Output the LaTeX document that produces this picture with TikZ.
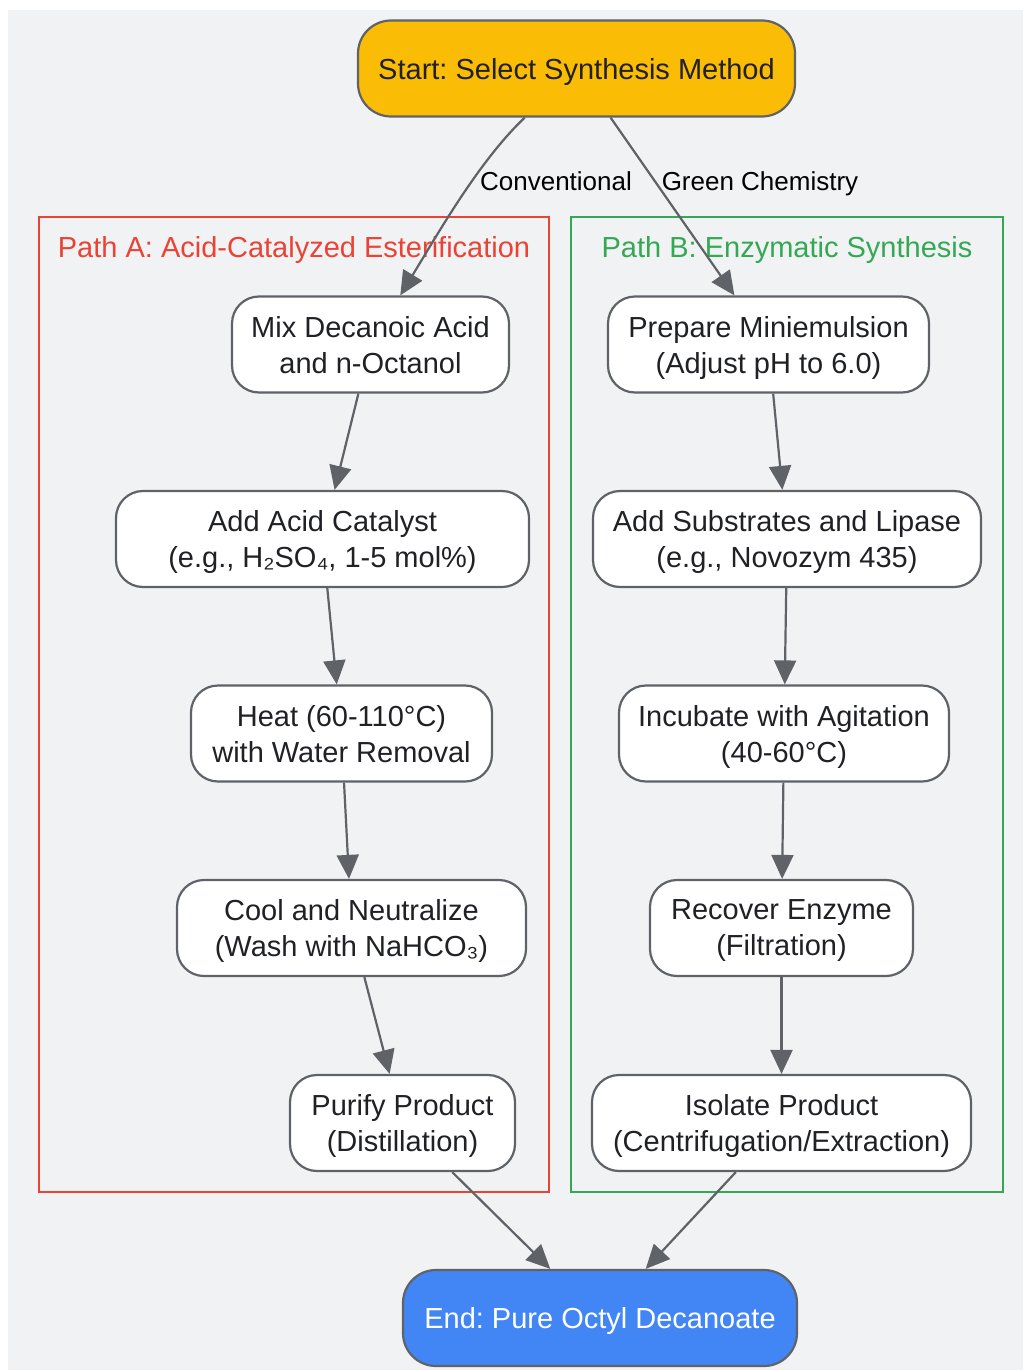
\documentclass[tikz,border=0pt]{standalone}
\usepackage{fontspec}
\setmainfont{Liberation Sans}
\usetikzlibrary{arrows.meta}
\definecolor{bgcol}{HTML}{F1F2F4}
\definecolor{linecol}{HTML}{5F6368}
\definecolor{startcol}{HTML}{FBBC05}
\definecolor{endcol}{HTML}{4285F4}
\definecolor{pathacol}{HTML}{EA4335}
\definecolor{pathbcol}{HTML}{34A853}
\definecolor{textcol}{HTML}{202124}
\frenchspacing

\begin{document}
\begin{tikzpicture}[x=1pt,y=-1pt]
    \tikzstyle{proc}=[rectangle, rounded corners=27pt, draw=linecol, line width=2.2pt, fill=white, minimum height=96pt, inner sep=0pt, text depth=0pt, align=center, text=textcol, font=\fontsize{29}{36}\selectfont]
    \tikzstyle{terminal}=[proc, rounded corners=33pt]
    \tikzstyle{cluster}=[line width=2.2pt]
    \tikzstyle{ctitle}=[text depth=0pt, font=\fontsize{29}{36}\selectfont]
    \tikzstyle{flow}=[draw=linecol, line width=2.2pt, -{Triangle[length=24pt,width=22pt]}]
    \tikzstyle{elabel}=[text depth=0pt, font=\fontsize{26}{30}\selectfont, text=black]
    \useasboundingbox (0,0) rectangle (1023,1370);
    \fill[bgcol] (8,10) rectangle (1023,1370);
    \draw[cluster, pathacol] (39,217) rectangle (549,1192);
    \draw[cluster, pathbcol] (571,217) rectangle (1003,1192);
    \node[ctitle, text=pathacol] (titlea) at (294,247) {Path A: Acid-Catalyzed Esterification};
    \node[ctitle, text=pathbcol] (titleb) at (787,247) {Path B: Enzymatic Synthesis};
    \node[terminal, fill=startcol, minimum width=437pt] (start) at (576.5,68.5) {Start: Select Synthesis Method};
    \node[terminal, fill=endcol, text=white, minimum width=394pt] (end) at (600,1318) {End: Pure Octyl Decanoate};
    \node[proc, minimum width=277pt] (mix) at (370.5,344.5) {Mix Decanoic Acid\\and n-Octanol};
    \node[proc, minimum width=413pt] (catalyst) at (322.5,539) {Add Acid Catalyst\\(e.g., H₂SO₄, 1-5 mol\%)};
    \node[proc, minimum width=301pt] (heat) at (341.5,733.5) {Heat (60-110°C)\\with Water Removal};
    \node[proc, minimum width=349pt] (cool) at (351.5,928) {Cool and Neutralize\\(Wash with NaHCO₃)};
    \node[proc, minimum width=225pt] (purify) at (402.5,1123) {Purify Product\\(Distillation)};
    \node[proc, minimum width=321pt] (emulsion) at (768.5,344.5) {Prepare Miniemulsion\\(Adjust pH to 6.0)};
    \node[proc, minimum width=388pt] (lipase) at (787,539) {Add Substrates and Lipase\\(e.g., Novozym 435)};
    \node[proc, minimum width=330pt] (incubate) at (784,733.5) {Incubate with Agitation\\(40-60°C)};
    \node[proc, minimum width=263pt] (recover) at (781.5,928) {Recover Enzyme\\(Filtration)};
    \node[proc, minimum width=379pt] (isolate) at (781.5,1123) {Isolate Product\\(Centrifugation/Extraction)};
    \draw[flow] (start) .. controls (480,160) and (440,230) .. (mix);
    \draw[flow] (start) -- (emulsion);
    \node[elabel] (conv) at (556,181) {Conventional};
    \node[elabel] (green) at (760,181) {Green Chemistry};
    \draw[flow] (mix) -- (catalyst);
    \draw[flow] (catalyst) -- (heat);
    \draw[flow] (heat) -- (cool);
    \draw[flow] (cool) -- (purify);
    \draw[flow] (emulsion) -- (lipase);
    \draw[flow] (lipase) -- (incubate);
    \draw[flow] (incubate) -- (recover);
    \draw[flow] (recover) -- (isolate);
    \draw[flow] (purify) -- (end);
    \draw[flow] (isolate) -- (end);
\end{tikzpicture}
\end{document}
